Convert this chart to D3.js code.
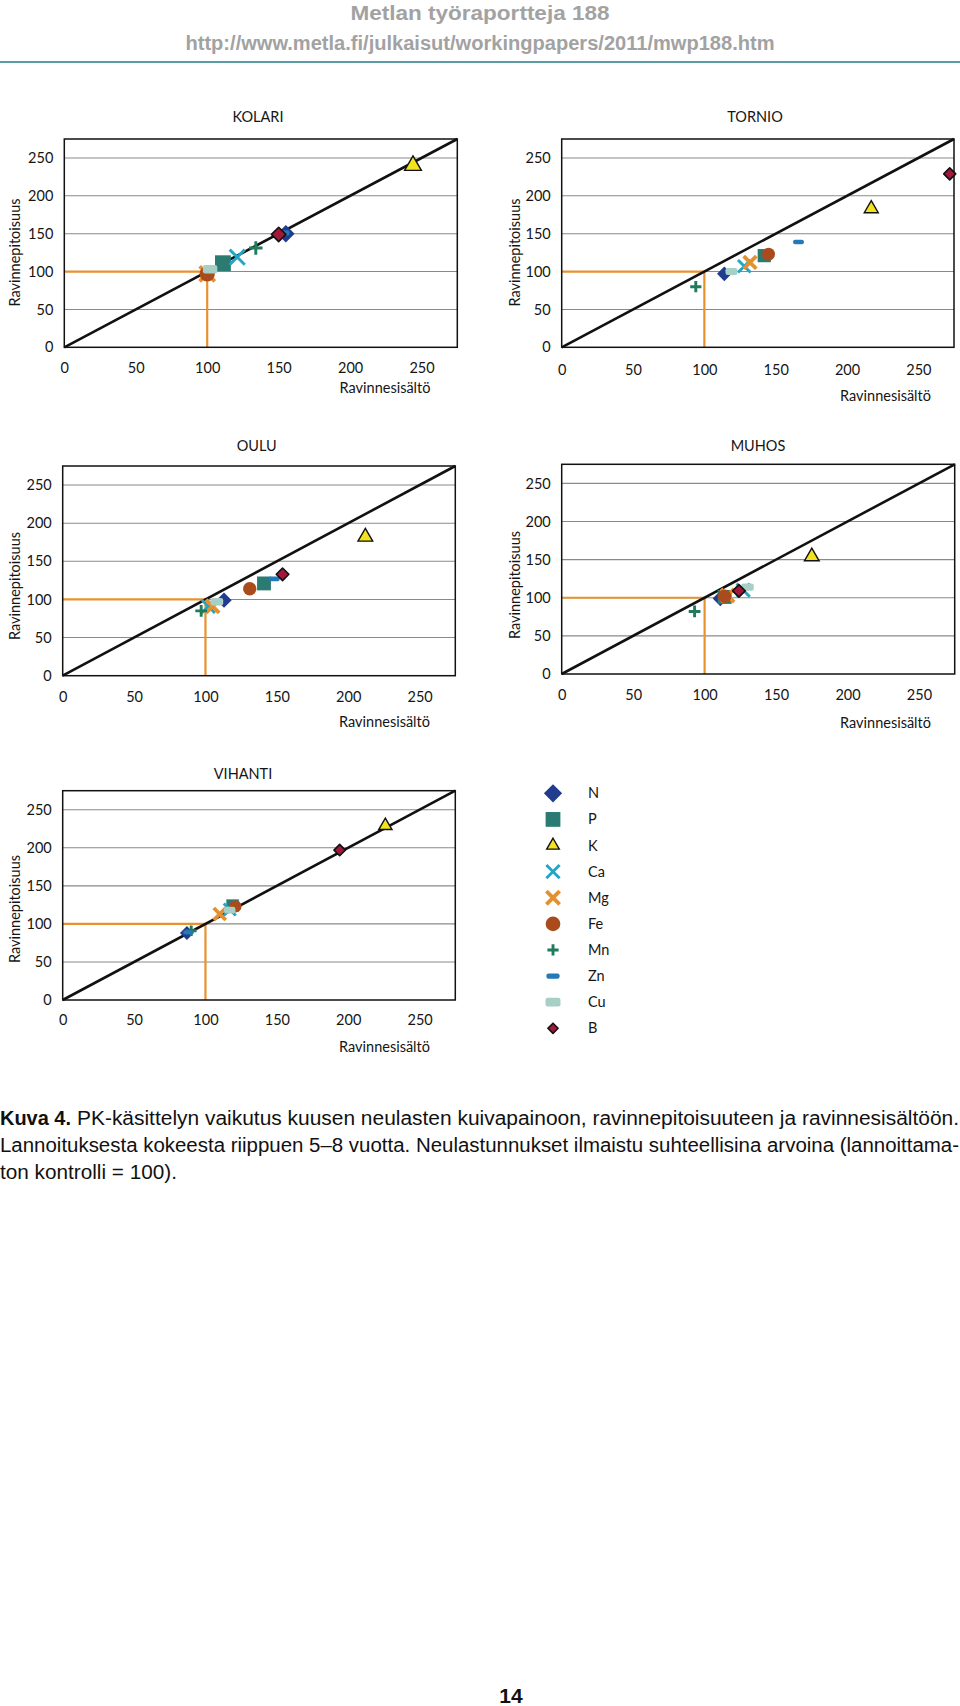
<!DOCTYPE html>
<html><head><meta charset="utf-8">
<script src="https://cdn.jsdelivr.net/npm/d3@7"></script>
<style>body{margin:0;background:#fff}svg{display:block}</style>
</head><body>
<script>
// ---------------- DATA ----------------
const elements = ["N","P","K","Ca","Mg","Fe","Mn","Zn","Cu","B"];
const sites = ["KOLARI","TORNIO","OULU","MUHOS","VIHANTI"];
const tickValues = [0,50,100,150,200,250];
const axisMax = 275;
const controlLevel = 100;
// x = Ravinnesisältö (content), y = Ravinnepitoisuus (concentration), element order as above
const kolariContent  = [155, 111, 244, 121, 100, 100, 134, 153, 102, 150];
const kolariConc     = [150, 111, 240, 119,  97,  97, 131, 151, 103, 149];
const tornioContent  = [114, 142, 217, 128, 132, 145,  94, 166, 119, 272];
const tornioConc     = [ 97, 121, 183, 107, 112, 123,  80, 139, 100, 229];
const ouluContent    = [113, 141, 212, 102, 105, 131,  97, 148, 108, 154];
const ouluConc       = [ 99, 121, 182,  91,  91, 114,  85, 127,  97, 133];
const muhosContent   = [111, 114, 175, 127, 116, 114,  93, 124, 130, 124];
const muhosConc      = [ 99, 101, 154, 110, 103, 102,  82, 109, 114, 109];
const vihantiContent = [ 87, 119, 226, 117, 110, 121,  90,  88, 117, 194];
const vihantiConc    = [ 88, 124, 229, 119, 113, 123,  91,  89, 118, 197];
const contentBySite = [kolariContent, tornioContent, ouluContent, muhosContent, vihantiContent];
const concBySite    = [kolariConc, tornioConc, ouluConc, muhosConc, vihantiConc];
const xTitle = "Ravinnesisältö";
const yTitle = "Ravinnepitoisuus";
const headerTitle = "Metlan työraportteja 188";
const headerUrl = "http://www.metla.fi/julkaisut/workingpapers/2011/mwp188.htm";
const captionLabel = "Kuva 4.";
const captionLines = [
  "PK-käsittelyn vaikutus kuusen neulasten kuivapainoon, ravinnepitoisuuteen ja ravinnesisältöön.",
  "Lannoituksesta kokeesta riippuen 5–8 vuotta. Neulastunnukset ilmaistu suhteellisina arvoina (lannoittama-",
  "ton kontrolli = 100)."
];
const pageNumber = "14";

// ---------------- LAYOUT / STYLE ----------------
const W = 960, H = 1706;
const panelLayout = [
  {l:64.3, r:457.3, t:139,   b:347.3, title:[258,116.5], xt:[385,387.7],   yt:[15,252.5],  pad:15, ms:1.2},
  {l:561.7,r:954,   t:139,   b:347.3, title:[755,116.5], xt:[885.5,395.7], yt:[515,252.5], pad:17, ms:1.0},
  {l:62.7, r:455.3, t:466,   b:675.7, title:[256.7,446], xt:[384.5,721.7], yt:[15,586],    pad:16, ms:1.05},
  {l:561.7,r:954.7, t:464.3, b:674,   title:[758,446],   xt:[885.5,723.3], yt:[515,585],   pad:16, ms:1.05},
  {l:62.7, r:455.3, t:790.7, b:1000,  title:[243,774],   xt:[384.5,1046.7],yt:[15,909],    pad:15, ms:0.95}
];
const markerStyle = {
  N:  {shape:"diamond", r:7.3, fill:"#1f3c8e"},
  P:  {shape:"square",  r:6.6, fill:"#2c7b72"},
  K:  {shape:"triangle",r:7,   fill:"#f3e21e", stroke:"#111"},
  Ca: {shape:"x",       r:6.3, color:"#23a5c6", w:2.9},
  Mg: {shape:"x",       r:6.3, color:"#e39030", w:3.8},
  Fe: {shape:"circle",  r:6.4, fill:"#a94b1c"},
  Mn: {shape:"plus",    r:5.6, color:"#1f7b5b", w:2.9},
  Zn: {shape:"dash",    w:11, h:4.5, fill:"#2479b9"},
  Cu: {shape:"dash",    w:12, h:7,   fill:"#a8cfc5"},
  B:  {shape:"diamond", r:6,   fill:"#a3183a", stroke:"#111"}
};
const legendScale = {N:1.25,P:1.12,K:0.9,Ca:1.05,Mg:1.05,Fe:1.15,Mn:1,Zn:1.2,Cu:1.25,B:0.85};
const chartFont = "Lato, 'Open Sans', sans-serif";
const refColor = "#e8922e";

function drawMarker(g, el, s) {
  const st = markerStyle[el];
  if (st.shape === "diamond") {
    const r = st.r * s;
    g.append("path").attr("d", `M0,${-r}L${r},0L0,${r}L${-r},0Z`)
      .attr("fill", st.fill).attr("stroke", st.stroke || "none").attr("stroke-width", 1.6)
      .attr("stroke-linejoin","round");
  } else if (st.shape === "square") {
    const r = st.r * s;
    g.append("rect").attr("x",-r).attr("y",-r).attr("width",2*r).attr("height",2*r).attr("fill",st.fill);
  } else if (st.shape === "triangle") {
    const r = st.r * s;
    const h = r * Math.sqrt(3);
    g.append("path").attr("d", `M0,${-h*2/3}L${r},${h/3}L${-r},${h/3}Z`)
      .attr("fill", st.fill).attr("stroke", st.stroke).attr("stroke-width", 1.4).attr("stroke-linejoin","miter");
  } else if (st.shape === "x") {
    const r = st.r * s;
    g.append("path").attr("d", `M${-r},${-r}L${r},${r}M${r},${-r}L${-r},${r}`)
      .attr("stroke", st.color).attr("stroke-width", st.w * Math.min(1,s+0.1)).attr("fill","none");
  } else if (st.shape === "plus") {
    const r = st.r * s;
    g.append("path").attr("d", `M${-r},0L${r},0M0,${-r}L0,${r}`)
      .attr("stroke", st.color).attr("stroke-width", st.w).attr("fill","none");
  } else if (st.shape === "circle") {
    g.append("circle").attr("r", st.r * s).attr("fill", st.fill);
  } else if (st.shape === "dash") {
    const w = st.w * s, h = st.h * s;
    g.append("rect").attr("x",-w/2).attr("y",-h/2).attr("width",w).attr("height",h)
      .attr("rx", Math.min(2.2, h/2)).attr("fill", st.fill);
  }
}

const svg = d3.select("body").append("svg").attr("width", W).attr("height", H)
  .attr("viewBox", `0 0 ${W} ${H}`);
svg.append("rect").attr("width", W).attr("height", H).attr("fill", "#fff");

// ---------------- HEADER ----------------
svg.append("text").attr("x", 480).attr("y", 19.5).attr("text-anchor","middle")
  .attr("font-family","'Liberation Sans', Arial, sans-serif").attr("font-weight","bold")
  .attr("font-size", 20).attr("fill","#a2a2a2")
  .attr("textLength", 259).attr("lengthAdjust","spacingAndGlyphs").text(headerTitle);
svg.append("text").attr("x", 480).attr("y", 50).attr("text-anchor","middle")
  .attr("font-family","'Liberation Sans', Arial, sans-serif").attr("font-weight","bold")
  .attr("font-size", 19.5).attr("fill","#a2a2a2")
  .attr("textLength", 589).attr("lengthAdjust","spacingAndGlyphs").text(headerUrl);
svg.append("line").attr("x1",0).attr("x2",W).attr("y1",62).attr("y2",62)
  .attr("stroke","#5a9ca3").attr("stroke-width",2);

// ---------------- PANELS ----------------
sites.forEach((site, i) => {
  const L = panelLayout[i];
  const x = d3.scaleLinear().domain([0, axisMax]).range([L.l, L.r]);
  const y = d3.scaleLinear().domain([0, axisMax]).range([L.b, L.t]);
  const g = svg.append("g");

  g.append("g").selectAll("line").data(tickValues.filter(v => v > 0)).join("line")
    .attr("x1", L.l).attr("x2", L.r).attr("y1", d => y(d)).attr("y2", d => y(d))
    .attr("stroke", "#8a8a8a").attr("stroke-width", 1.1);

  const ya = g.append("g").attr("transform", `translate(${L.l},0)`)
    .call(d3.axisLeft(y).tickValues(tickValues).tickSize(0).tickPadding(11).tickFormat(d3.format("d")));
  const xa = g.append("g").attr("transform", `translate(0,${L.b})`)
    .call(d3.axisBottom(x).tickValues(tickValues).tickSize(0).tickPadding(L.pad).tickFormat(d3.format("d")));
  [ya, xa].forEach(a => {
    a.select(".domain").remove();
    a.selectAll("text").attr("font-family", chartFont).attr("font-size", 14.5).attr("fill", "#151515");
  });

  g.append("path")
    .attr("d", `M${x(0)},${y(controlLevel)}L${x(controlLevel)},${y(controlLevel)}L${x(controlLevel)},${y(0)}`)
    .attr("fill","none").attr("stroke", refColor).attr("stroke-width", 2.2);

  g.append("line").attr("x1", x(0)).attr("y1", y(0)).attr("x2", x(axisMax)).attr("y2", y(axisMax))
    .attr("stroke", "#111").attr("stroke-width", 2.6);

  g.append("rect").attr("x", L.l).attr("y", L.t).attr("width", L.r - L.l).attr("height", L.b - L.t)
    .attr("fill","none").attr("stroke","#111").attr("stroke-width",1.5);

  const pts = elements.map((el, k) => ({el, cx: contentBySite[i][k], cy: concBySite[i][k]}));
  g.append("g").selectAll("g").data(pts).join("g")
    .attr("transform", d => `translate(${x(d.cx)},${y(d.cy)})`)
    .each(function(d){ drawMarker(d3.select(this), d.el, L.ms); });

  g.append("text").attr("x", L.title[0]).attr("y", L.title[1]).attr("dy","0.35em")
    .attr("text-anchor","middle").attr("font-family", chartFont).attr("font-size", 14.5)
    .attr("fill","#151515").text(site);
  g.append("text").attr("x", L.xt[0]).attr("y", L.xt[1]).attr("dy","0.35em")
    .attr("text-anchor","middle").attr("font-family", chartFont).attr("font-size", 14.5)
    .attr("fill","#151515").text(xTitle);
  g.append("text").attr("transform", `translate(${L.yt[0]},${L.yt[1]}) rotate(-90)`).attr("dy","0.35em")
    .attr("text-anchor","middle").attr("font-family", chartFont).attr("font-size", 14.5)
    .attr("fill","#151515").text(yTitle);
});

// ---------------- LEGEND ----------------
const legY = d3.scalePoint().domain(elements).range([793.3, 1028.3]);
const leg = svg.append("g");
elements.forEach(el => {
  const row = leg.append("g").attr("transform", `translate(553,${legY(el)})`);
  drawMarker(row, el, legendScale[el]);
  leg.append("text").attr("x", 588).attr("y", legY(el)).attr("dy","0.35em")
    .attr("font-family", chartFont).attr("font-size", 14.5).attr("fill","#151515").text(el);
});

// ---------------- CAPTION ----------------
const capFont = "'Liberation Sans', Arial, sans-serif";
svg.append("text").attr("x", 0).attr("y", 1125).attr("font-family", capFont).attr("font-weight","bold")
  .attr("font-size", 19.5).attr("fill","#111")
  .attr("textLength", 71).attr("lengthAdjust","spacingAndGlyphs").text(captionLabel);
svg.append("text").attr("x", 77).attr("y", 1125).attr("font-family", capFont)
  .attr("font-size", 19.5).attr("fill","#111")
  .attr("textLength", 882).attr("lengthAdjust","spacingAndGlyphs").text(captionLines[0]);
svg.append("text").attr("x", 0).attr("y", 1152).attr("font-family", capFont)
  .attr("font-size", 19.5).attr("fill","#111")
  .attr("textLength", 959).attr("lengthAdjust","spacingAndGlyphs").text(captionLines[1]);
svg.append("text").attr("x", 0).attr("y", 1179).attr("font-family", capFont)
  .attr("font-size", 19.5).attr("fill","#111")
  .attr("textLength", 177).attr("lengthAdjust","spacingAndGlyphs").text(captionLines[2]);

svg.append("text").attr("x", 511).attr("y", 1703).attr("text-anchor","middle")
  .attr("font-family", capFont).attr("font-weight","bold").attr("font-size", 21)
  .attr("fill","#111").text(pageNumber);
</script>
</body></html>
